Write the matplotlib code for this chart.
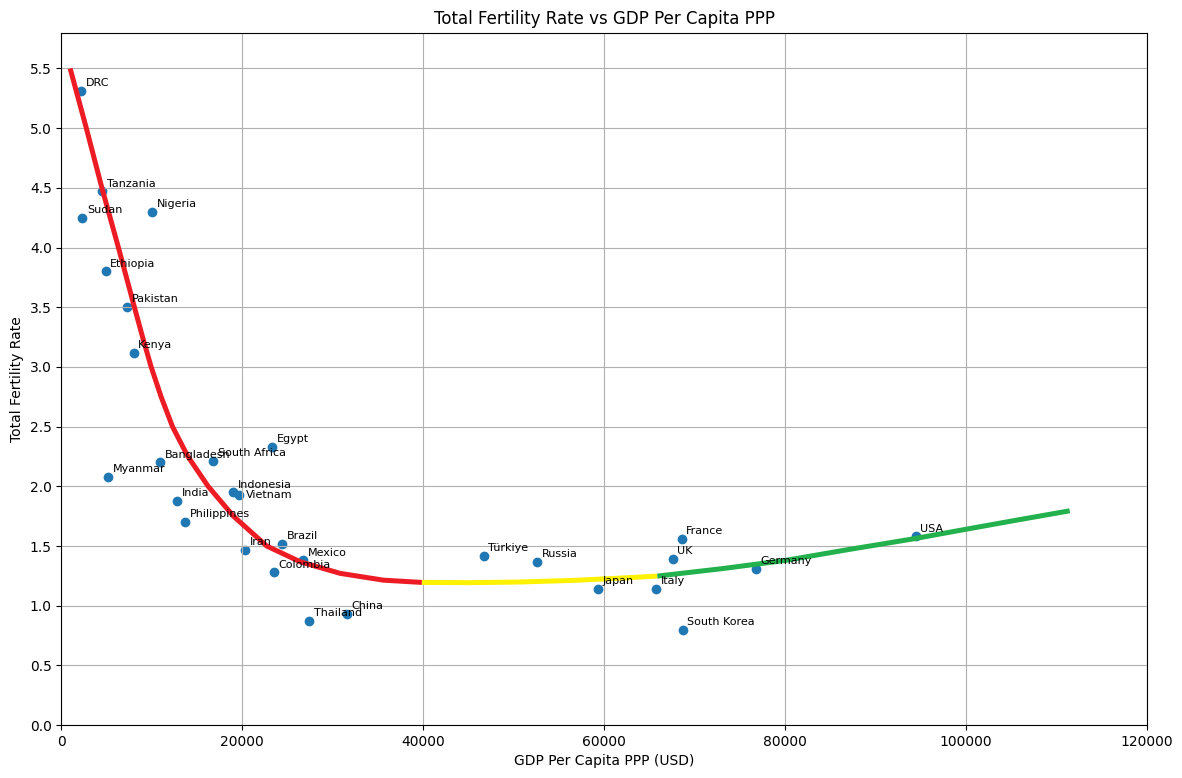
import numpy as np
import matplotlib.pyplot as plt

# country data
countries = ["DRC", "Tanzania", "Sudan", "Nigeria", "Ethiopia", "Pakistan", "Kenya",
             "Myanmar", "Bangladesh", "South Africa", "Egypt", "Indonesia", "Vietnam",
             "India", "Philippines", "Iran", "Brazil", "Mexico", "Colombia", "Thailand",
             "China", "Türkiye", "Russia", "Japan", "Italy", "France", "UK",
             "South Korea", "Germany", "USA"]
gdp = np.array([2200, 4500, 2300, 10000, 4900, 7300, 8000,
                5200, 10900, 16800, 23300, 19000, 19600,
                12800, 13700, 20300, 24400, 26700, 23500, 27400,
                31600, 46700, 52600, 59300, 65800, 68600, 67600,
                68700, 76800, 94500])
tfr = np.array([5.31, 4.47, 4.25, 4.30, 3.80, 3.50, 3.12,
                2.08, 2.20, 2.21, 2.33, 1.95, 1.93,
                1.88, 1.70, 1.47, 1.52, 1.38, 1.28, 0.87,
                0.93, 1.42, 1.37, 1.14, 1.14, 1.56, 1.39,
                0.80, 1.31, 1.58])

# trend curve in three coloured pieces
red_x = np.array([960, 2750, 4470, 6300, 8070, 8970, 9920, 11020, 12280, 13980,
                  16220, 19020, 22700, 26400, 30820, 35610, 39860])
red_y = np.array([5.50, 5.00, 4.50, 4.00, 3.50, 3.25, 3.00, 2.75, 2.50, 2.25,
                  2.00, 1.75, 1.50, 1.368, 1.271, 1.214, 1.195])
yellow_x = np.array([39860, 45000, 50400, 56600, 61000, 65900])
yellow_y = np.array([1.195, 1.193, 1.198, 1.212, 1.228, 1.248])
green_x = np.array([65900, 73000, 80100, 87000, 94200, 100000, 105500, 111500])
green_y = np.array([1.248, 1.31, 1.38, 1.47, 1.56, 1.64, 1.715, 1.795])

fig = plt.figure(figsize=(11.82, 7.78), dpi=100)
plt.subplots_adjust(left=0.052, right=0.97, top=0.958, bottom=0.068)

plt.scatter(gdp, tfr)
for name, x, y in zip(countries, gdp, tfr):
    if name == "Vietnam":
        # this label sits beside its point, not above it
        plt.text(x + 800, y, name, fontsize=8, va="center")
    else:
        plt.text(x + 500, y + 0.04, name, fontsize=8)

plt.plot(red_x, red_y, color="#ED1C24", linewidth=3.6, solid_capstyle="butt",
         solid_joinstyle="round")
plt.plot(yellow_x, yellow_y, color="#FFF200", linewidth=3.6, solid_capstyle="butt")
plt.plot(green_x, green_y, color="#22B14C", linewidth=3.6, solid_capstyle="butt")

plt.title("Total Fertility Rate vs GDP Per Capita PPP")
plt.xlabel("GDP Per Capita PPP (USD)")
plt.ylabel("Total Fertility Rate")
plt.xlim(0, 120000)
plt.ylim(0, 5.8)
plt.yticks(np.arange(0, 5.51, 0.5))
plt.grid(True)

plt.savefig("out.png", dpi=100)
